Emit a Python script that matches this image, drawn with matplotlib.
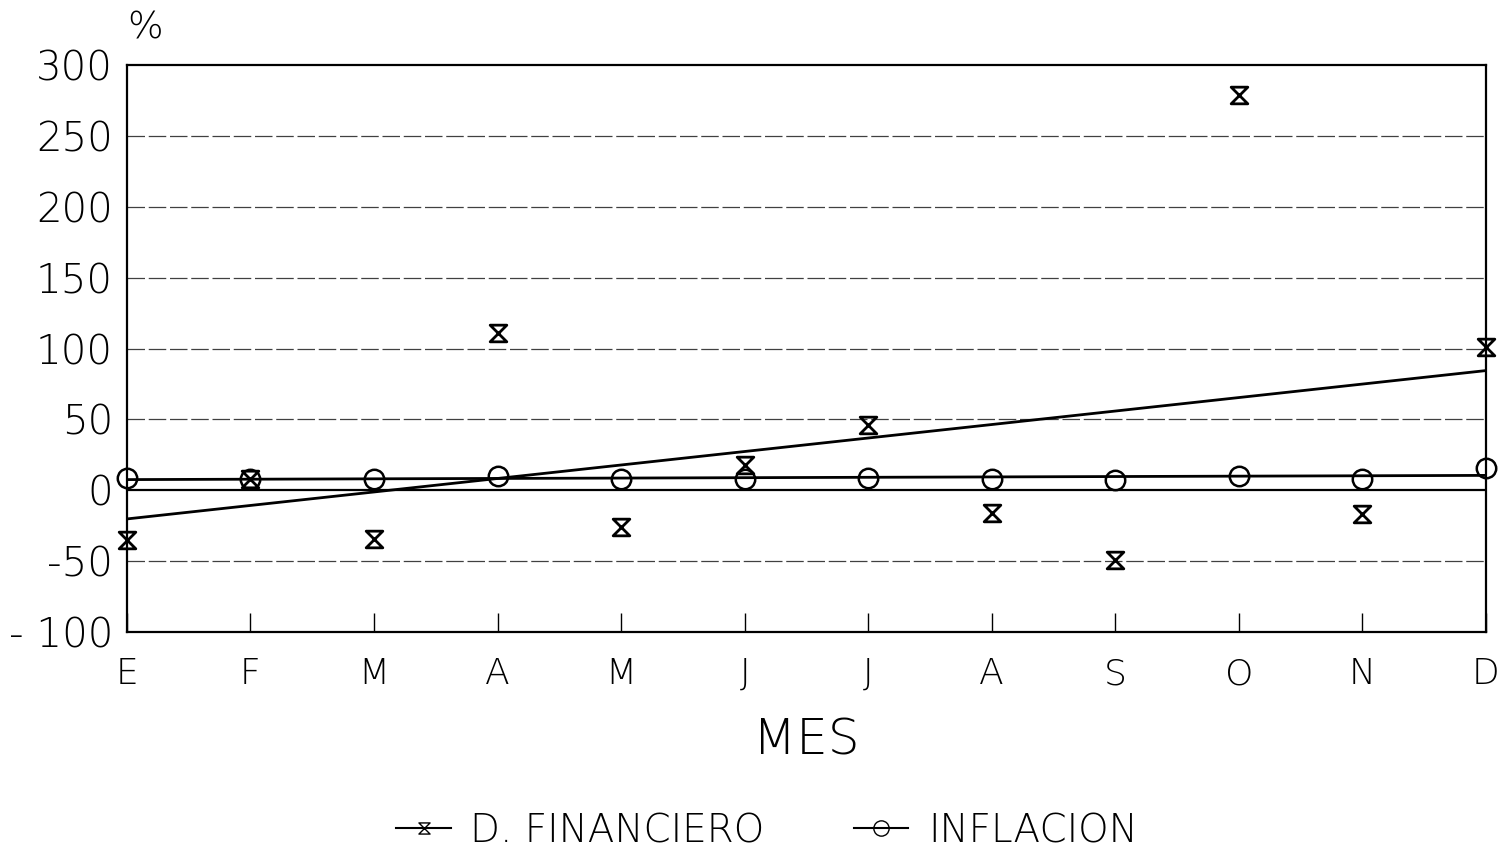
import numpy as np
import matplotlib.pyplot as plt
from matplotlib.path import Path
from matplotlib.lines import Line2D

plt.rcParams['font.family'] = ['DejaVu Sans']
plt.rcParams['font.weight'] = 'light'

meses = ["E", "F", "M", "A", "M", "J", "J", "A", "S", "O", "N", "D"]
financiero = [-35, 8, -34, 111, -26, 18, 46, -16, -49, 279, -17, 101]
inflacion = [9, 8, 8, 10, 8, 8, 9, 8, 7, 10, 8, 16]
y_ticks = [-100, -50, 0, 50, 100, 150, 200, 250, 300]
y_labels = ["- 100", "-50", "0", "50", "100", "150", "200", "250", "300"]

x = np.arange(len(meses))

# hourglass marker
reloj = Path([(-1, 1), (1, 1), (-1, -1), (1, -1), (-1, 1)],
             [Path.MOVETO, Path.LINETO, Path.LINETO, Path.LINETO, Path.CLOSEPOLY])

fig = plt.figure(figsize=(15.04, 8.66), dpi=100)
ax = fig.add_axes([0.0844, 0.270, 0.9036, 0.655])

for v in [-50, 50, 100, 150, 200, 250]:
    ax.axhline(v, color='0.25', lw=0.9, ls=(0, (14, 3)), zorder=1)
ax.axhline(0, color='black', lw=1.6, zorder=2)

# linear trend lines
m1, b1 = np.polyfit(x, financiero, 1)
m2, b2 = np.polyfit(x, inflacion, 1)
ax.plot(x, m1 * x + b1, color='black', lw=2, zorder=3)
ax.plot(x, m2 * x + b2, color='black', lw=2, zorder=3)

ax.plot(x, financiero, ls='none', marker=reloj, ms=12, mfc='none', mec='black',
        mew=2, zorder=4, clip_on=False)
ax.plot(x, inflacion, ls='none', marker='o', ms=14, mfc='none', mec='black',
        mew=1.8, zorder=4, clip_on=False)

ax.set_xlim(0, 11)
ax.set_ylim(-100, 300)
ax.set_yticks(y_ticks)
ax.set_yticklabels(y_labels)
ax.set_xticks(x)
ax.set_xticklabels(meses)
ax.tick_params(axis='y', length=0, labelsize=29, pad=10)
ax.tick_params(axis='x', direction='in', length=14, width=1, labelsize=26, pad=18)
for s in ax.spines.values():
    s.set_linewidth(1.6)

ax.set_xlabel("MES", fontsize=36, fontweight='light', labelpad=18)
ax.text(0.0, 1.035, "%", transform=ax.transAxes, fontsize=27, ha='left', va='bottom')

handles = [
    Line2D([], [], color='black', lw=1.5, marker=reloj, ms=8, mfc='none', mec='black'),
    Line2D([], [], color='black', lw=1.5, marker='o', ms=11, mfc='none', mec='black'),
]
fig.legend(handles, ["D. FINANCIERO", "INFLACION"], loc='lower center',
           bbox_to_anchor=(0.51, -0.022), ncol=2, frameon=False, fontsize=28,
           handlelength=1.4, columnspacing=2.3, handletextpad=0.5)

fig.savefig("out.png", dpi=100)
